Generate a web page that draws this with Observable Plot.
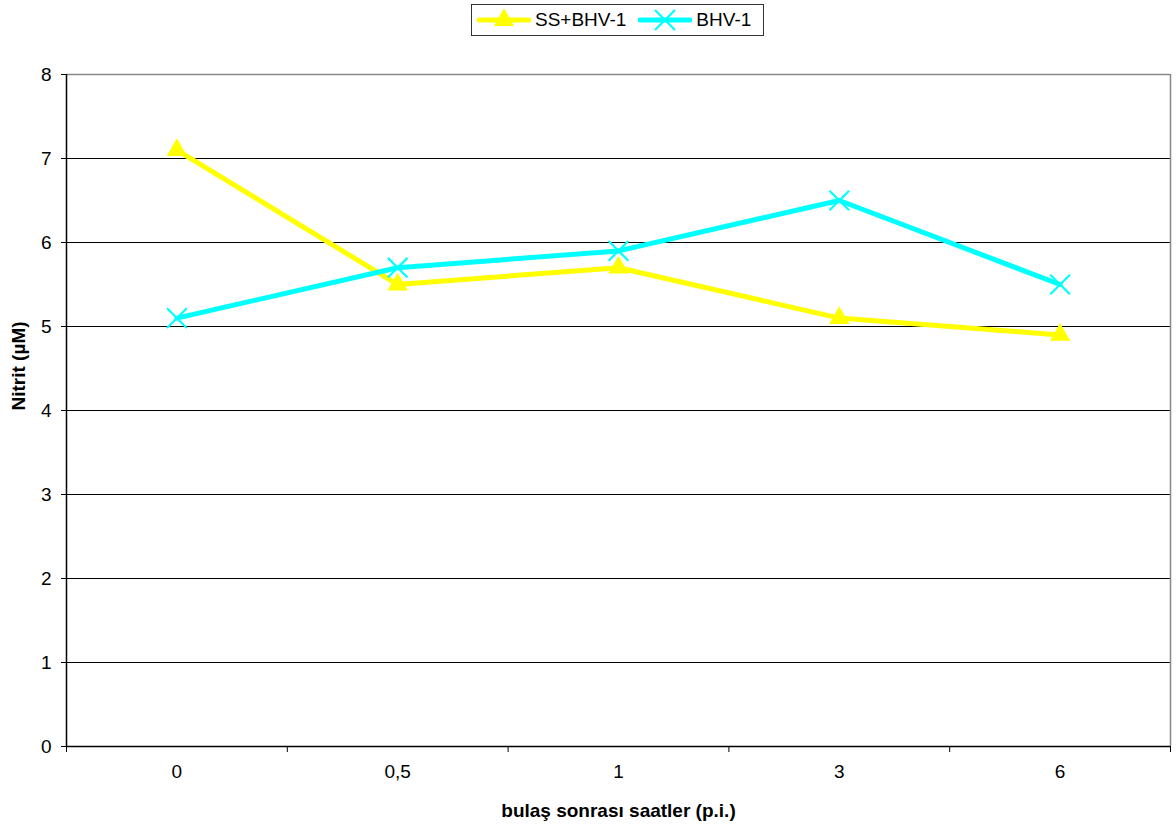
<!DOCTYPE html>
<html>
<head>
<meta charset="utf-8">
<script src="https://cdn.jsdelivr.net/npm/d3@7"></script>
<script src="https://cdn.jsdelivr.net/npm/@observablehq/plot@0.6"></script>
<style>
  html, body { margin: 0; padding: 0; background: #fff; }
  body { font-family: "Liberation Sans", Arial, sans-serif; position: relative; width: 1176px; height: 829px; }
  #legend {
    position: absolute; z-index: 2; left: 471px; top: 4px; width: 293px; height: 32px;
    border: 1px solid #333; background: #fff; box-sizing: border-box;
    display: flex; align-items: center; font-size: 19px; color: #000; padding-left: 5px;
  }
  #legend .item { display: flex; align-items: center; }
  #legend svg { display: block; }
  #chart { position: absolute; z-index: 1; left: 0; top: 0; }
  #chart svg text { font-size: 19px; }
</style>
</head>
<body>
<div id="legend"></div>
<div id="chart"></div>
<script>
// Hours after infection (category labels) and nitrite readings (µM)
const hours = ["0", "0,5", "1", "3", "6"];
const ssBhv = [7.1, 5.5, 5.7, 5.1, 4.9];
const bhv = [5.1, 5.7, 5.9, 6.5, 5.5];
const seriesNames = ["SS+BHV-1", "BHV-1"];
const seriesColors = ["#FFFF00", "#00FFFF"];
const yTicks = [0, 1, 2, 3, 4, 5, 6, 7, 8];

// Each category sits in the middle of its slot on a 0..n linear axis
const rows = (vals, name) => vals.map((v, i) => ({hour: hours[i], pos: i + 0.5, value: v, series: name}));
const dataSS = rows(ssBhv, seriesNames[0]);
const dataBHV = rows(bhv, seriesNames[1]);
const slotEdges = d3.range(hours.length + 1);
const slotMids = hours.map((_, i) => i + 0.5);

const chart = Plot.plot({
  width: 1176,
  height: 829,
  marginTop: 74,
  marginLeft: 66,
  marginRight: 6,
  marginBottom: 83,
  style: {fontFamily: "Liberation Sans, Arial, sans-serif", fontSize: "19px", color: "#000", background: "#fff"},
  x: {domain: [0, hours.length], axis: null},
  y: {domain: [0, 8], axis: null},
  marks: [
    Plot.gridY(yTicks.filter(d => d > 0 && d < 8), {stroke: "#000", strokeOpacity: 1, strokeWidth: 1}),
    Plot.ruleY([8], {stroke: "#888", strokeWidth: 1.5}),
    Plot.ruleX([hours.length], {stroke: "#888", strokeWidth: 1.5}),
    Plot.ruleX([0], {stroke: "#000", strokeWidth: 1.5}),
    Plot.ruleY([0], {stroke: "#000", strokeWidth: 1.5}),
    Plot.axisY({ticks: yTicks, tickSize: 5, tickPadding: 10, tickFormat: d => String(d), label: null, stroke: "#000", fontSize: 19}),
    Plot.axisX({ticks: slotEdges, tickSize: 6, tickFormat: () => "", label: null, stroke: "#000"}),
    Plot.axisX({ticks: slotMids, tickSize: 0, tickPadding: 18, tickFormat: d => hours[Math.round(d - 0.5)], label: null, fontSize: 19}),
    Plot.line(dataSS, {x: "pos", y: "value", stroke: seriesColors[0], strokeWidth: 5}),
    Plot.dot(dataSS, {x: "pos", y: "value", symbol: "triangle", r: 7.6, fill: seriesColors[0], stroke: "none"}),
    Plot.line(dataBHV, {x: "pos", y: "value", stroke: seriesColors[1], strokeWidth: 5}),
    Plot.dot(dataBHV, {x: "pos", y: "value", symbol: "times", r: 9, stroke: seriesColors[1], strokeWidth: 2.2}),
    Plot.text(["Nitrit (µM)"], {frameAnchor: "left", dx: -48, rotate: -90, text: d => d, fontWeight: "bold", fontSize: 19}),
    Plot.text(["bulaş sonrası saatler (p.i.)"], {frameAnchor: "bottom", lineAnchor: "middle", dy: 64, text: d => d, fontWeight: "bold", fontSize: 19})
  ]
});
document.getElementById("chart").appendChild(chart);

// Legend: line swatch with marker, then series name
const legend = d3.select("#legend");
const swatch = [
  {name: seriesNames[0], color: seriesColors[0], symbol: d3.symbolTriangle, size: 180, fill: true, pad: 0},
  {name: seriesNames[1], color: seriesColors[1], symbol: d3.symbolTimes, size: 260, fill: false, pad: 12}
];
swatch.forEach(s => {
  const item = legend.append("div").attr("class", "item").style("margin-left", s.pad + "px");
  const svg = item.append("svg").attr("width", 54).attr("height", 24);
  svg.append("line").attr("x1", 2).attr("x2", 52).attr("y1", 12).attr("y2", 12)
    .attr("stroke", s.color).attr("stroke-width", 5).attr("stroke-linecap", "round");
  svg.append("path").attr("transform", "translate(27,12)")
    .attr("d", d3.symbol(s.symbol, s.size)())
    .attr("fill", s.fill ? s.color : "none")
    .attr("stroke", s.fill ? "none" : s.color).attr("stroke-width", 2.2);
  item.append("span").text(s.name).style("margin-left", "4px");
});
</script>
</body>
</html>
